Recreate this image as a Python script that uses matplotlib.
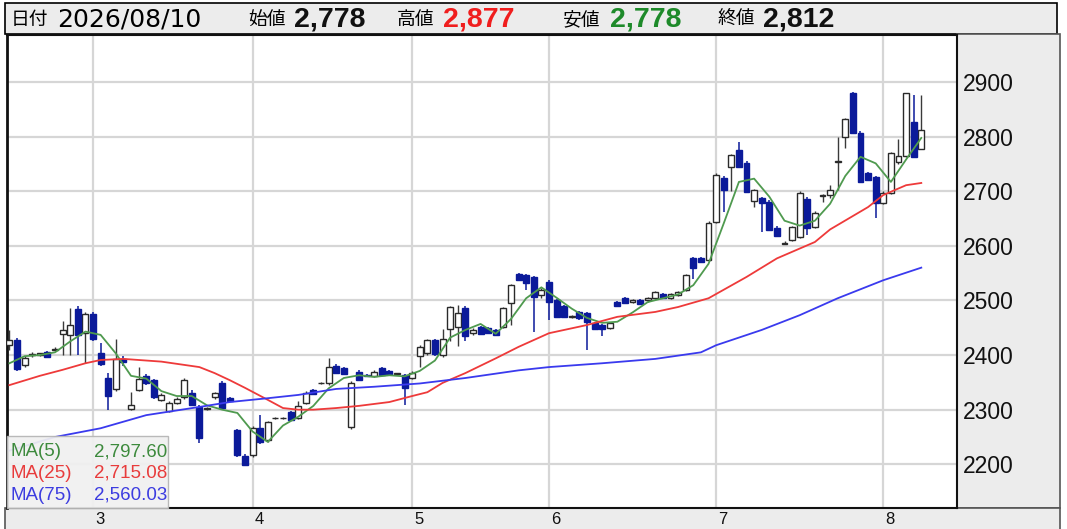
import numpy as np
import pandas as pd
import matplotlib
matplotlib.use("Agg")
import matplotlib.pyplot as plt
from matplotlib.patches import Rectangle
from matplotlib.transforms import ScaledTranslation

plt.rcParams['font.family'] = ['DejaVu Sans', 'Noto Sans CJK JP']
NUM = ['Liberation Sans', 'DejaVu Sans']
JP = ['Noto Sans CJK JP', 'DejaVu Sans']

# Tokyo trading days shown on the chart
holidays = ["2026-02-23", "2026-03-20", "2026-04-29", "2026-05-04",
            "2026-05-05", "2026-05-06", "2026-07-20"]
dates = pd.bdate_range("2026-02-12", "2026-08-10")
dates = dates[~dates.isin(pd.to_datetime(holidays))]

opens = [2418, 2428, 2382, 2400, 2401, 2405, 2410, 2438, 2437, 2485,
         2440, 2476, 2404, 2358, 2338, 2392, 2302, 2336, 2362, 2354,
         2318, 2298, 2313, 2323, 2331, 2305, 2302, 2323, 2349, 2322,
         2263, 2215, 2217, 2266, 2244, 2284, 2284, 2296, 2285, 2313,
         2336, 2348, 2349, 2380, 2376, 2268, 2369, 2364, 2362, 2376,
         2370, 2365, 2363, 2358, 2398, 2404, 2427, 2400, 2448, 2451,
         2486, 2440, 2451, 2449, 2446, 2451, 2495, 2548, 2546, 2543,
         2510, 2534, 2500, 2489, 2470, 2478, 2477, 2459, 2455, 2449,
         2497, 2505, 2497, 2500, 2500, 2504, 2512, 2504, 2510, 2520,
         2577, 2577, 2574, 2643, 2724, 2744, 2775, 2752, 2682, 2687,
         2680, 2633, 2604, 2611, 2616, 2686, 2634, 2692, 2693, 2754,
         2800, 2880, 2807, 2733, 2726, 2678, 2697, 2753, 2764, 2827,
         2778]
highs = [2445, 2432, 2398, 2405, 2404, 2408, 2414, 2462, 2487, 2490,
         2478, 2478, 2422, 2367, 2430, 2398, 2332, 2378, 2365, 2356,
         2330, 2316, 2323, 2358, 2336, 2308, 2305, 2333, 2352, 2324,
         2265, 2218, 2270, 2290, 2280, 2287, 2287, 2298, 2315, 2335,
         2338, 2351, 2394, 2384, 2378, 2352, 2372, 2366, 2372, 2378,
         2372, 2368, 2366, 2370, 2418, 2430, 2430, 2448, 2490, 2492,
         2490, 2450, 2454, 2452, 2448, 2488, 2530, 2550, 2548, 2545,
         2522, 2537, 2503, 2492, 2473, 2480, 2479, 2461, 2457, 2461,
         2499, 2507, 2502, 2502, 2507, 2517, 2514, 2514, 2518, 2548,
         2580, 2580, 2645, 2733, 2727, 2768, 2790, 2755, 2704, 2690,
         2683, 2636, 2608, 2636, 2700, 2690, 2663, 2695, 2712, 2800,
         2834, 2882, 2810, 2736, 2728, 2700, 2772, 2795, 2880, 2876,
         2877]
lows = [2410, 2370, 2378, 2396, 2398, 2394, 2408, 2400, 2400, 2400,
        2385, 2425, 2380, 2300, 2335, 2380, 2300, 2334, 2345, 2320,
        2315, 2296, 2310, 2320, 2306, 2239, 2300, 2320, 2300, 2314,
        2213, 2196, 2214, 2238, 2240, 2283, 2283, 2279, 2283, 2311,
        2327, 2347, 2345, 2366, 2363, 2265, 2352, 2360, 2360, 2361,
        2364, 2364, 2309, 2356, 2378, 2400, 2398, 2397, 2425, 2417,
        2425, 2436, 2436, 2438, 2435, 2449, 2455, 2535, 2520, 2442,
        2505, 2464, 2468, 2468, 2468, 2465, 2409, 2446, 2435, 2447,
        2488, 2493, 2495, 2491, 2498, 2502, 2503, 2502, 2508, 2518,
        2540, 2568, 2572, 2641, 2662, 2700, 2742, 2697, 2672, 2625,
        2627, 2616, 2603, 2609, 2614, 2620, 2632, 2680, 2688, 2702,
        2780, 2805, 2715, 2719, 2651, 2676, 2695, 2750, 2762, 2760,
        2778]
closes = [2428, 2375, 2394, 2402, 2403, 2397, 2412, 2446, 2455, 2437,
          2476, 2430, 2383, 2325, 2393, 2388, 2309, 2356, 2349, 2323,
          2327, 2313, 2320, 2354, 2309, 2248, 2303, 2331, 2303, 2316,
          2217, 2199, 2266, 2241, 2277, 2285, 2285, 2281, 2307, 2331,
          2329, 2349, 2378, 2368, 2365, 2349, 2354, 2362, 2369, 2363,
          2366, 2366, 2340, 2367, 2415, 2427, 2402, 2429, 2488, 2477,
          2434, 2446, 2438, 2440, 2437, 2486, 2528, 2537, 2532, 2506,
          2519, 2497, 2470, 2470, 2471, 2467, 2460, 2448, 2448, 2459,
          2490, 2495, 2500, 2493, 2505, 2515, 2505, 2512, 2516, 2546,
          2559, 2570, 2642, 2730, 2702, 2766, 2744, 2699, 2702, 2678,
          2629, 2618, 2606, 2634, 2697, 2632, 2660, 2693, 2702, 2755,
          2832, 2807, 2717, 2721, 2678, 2697, 2770, 2764, 2880, 2763,
          2812]

# moving averages (candle index, value)
ma5_idx = list(range(0, 121, 2))
ma5_val = [2385, 2398, 2400, 2405, 2425, 2443, 2437, 2403, 2362, 2357,
           2334, 2325, 2325, 2308, 2300, 2294, 2260, 2241, 2271, 2287,
           2307, 2339, 2358, 2363, 2360, 2363, 2361, 2371, 2390, 2432,
           2446, 2457, 2439, 2466, 2504, 2524, 2505, 2485, 2468, 2459,
           2461, 2478, 2497, 2504, 2511, 2528, 2567, 2641, 2717, 2723,
           2690, 2646, 2637, 2646, 2677, 2728, 2763, 2751, 2717, 2758,
           2797.60]
ma25_idx = [0, 4, 7, 10, 12, 15, 20, 25, 27, 29, 31, 34, 36, 38, 40, 43, 46,
            50, 53, 55, 57, 60, 64, 67, 71, 76, 80, 85, 88, 92, 97, 101, 106,
            108, 113, 115, 118, 120]
ma25_val = [2345, 2362, 2373, 2385, 2391, 2393, 2388, 2378, 2367, 2354, 2340,
            2318, 2303, 2300, 2300, 2303, 2307, 2314, 2325, 2332, 2349, 2367,
            2394, 2415, 2440, 2455, 2470, 2479, 2488, 2504, 2543, 2577, 2607,
            2630, 2671, 2693, 2711, 2715.08]
ma75_idx = [0, 6, 12, 18, 25, 29, 34, 38, 43, 48, 54, 57, 60, 64, 67, 71, 78,
            85, 91, 93, 99, 104, 109, 115, 120]
ma75_val = [2225, 2250, 2266, 2290, 2305, 2314, 2321, 2327, 2338, 2342, 2348,
            2353, 2358, 2366, 2372, 2378, 2385, 2393, 2405, 2418, 2446, 2473,
            2504, 2537, 2560.03]

ma_names = ["MA(5)", "MA(25)", "MA(75)"]
ma_line_colors = ["#4f9a4f", "#ee3a3a", "#3a3aee"]
ma_text_colors = ["#3d8a3d", "#e83c3c", "#3c3ce0"]

W, H = 1067, 529
BLUE = "#0b1a9a"


def fx(x):
    return x / W


def fy(y):
    return 1 - y / H


fig = plt.figure(figsize=(W / 100, H / 100), dpi=100)
fig.patch.set_facecolor("white")

# grey panels: header, right price scale, bottom date strip
for (x0, y0, x1, y1, ec) in [(5, 3, 1057, 34, "black"),
                             (957, 34, 1060, 508, "#555555"),
                             (5, 508, 1060, 535, "#555555")]:
    fig.patches.append(Rectangle((fx(x0), fy(y1)), fx(x1) - fx(x0), fy(y0) - fy(y1),
                                 transform=fig.transFigure, facecolor="#ececec",
                                 edgecolor=ec, lw=1.2, zorder=-1))

ax = fig.add_axes([fx(7), fy(508), fx(957) - fx(7), fy(35) - fy(508)])
ax.set_facecolor("white")

o = np.array(opens, float)
h = np.array(highs, float)
l = np.array(lows, float)
c = np.array(closes, float)
x = np.arange(len(c))
up = c >= o

ax.vlines(x[up], l[up], h[up], color="#3a3a3a", lw=1, zorder=3)
ax.vlines(x[~up], l[~up], h[~up], color=BLUE, lw=1.1, zorder=3)
ax.bar(x[up], np.maximum(c - o, 1.5)[up], bottom=o[up], width=0.78,
       facecolor="white", edgecolor="#2a2a2a", lw=1, zorder=4)
ax.bar(x[~up], (o - c)[~up], bottom=c[~up], width=0.78,
       facecolor=BLUE, edgecolor=BLUE, lw=1, zorder=4)

for idx, val, col in zip([ma5_idx, ma25_idx, ma75_idx], [ma5_val, ma25_val, ma75_val],
                         ma_line_colors):
    ax.plot(idx, val, color=col, lw=1.3, zorder=5)

ax.set_xlim(-0.32, 124.7)
ax.set_ylim(2120, 2986)

# month gridlines at first trading day
month_start = [i for i in range(1, len(dates)) if dates[i].month != dates[i - 1].month]
ax.set_xticks(month_start, [str(dates[i].month) for i in month_start])
ax.set_yticks(range(2200, 3000, 100))
ax.grid(color="#d6d6d6", lw=1.6, zorder=0)
ax.set_axisbelow(True)

ax.yaxis.tick_right()
ax.tick_params(axis="y", length=0, pad=4, labelsize=16.5, labelcolor="#111111")
ax.tick_params(axis="x", length=0, pad=3, labelsize=12, labelcolor="#111111")
for t in ax.get_yticklabels() + ax.get_xticklabels():
    t.set_family(NUM)
for t in ax.get_xticklabels():
    t.set_transform(t.get_transform() + ScaledTranslation(0.07, 0, fig.dpi_scale_trans))

for side, lw in [("left", 2), ("right", 1.5), ("top", 1.5), ("bottom", 1.5)]:
    ax.spines[side].set_color("#111111")
    ax.spines[side].set_linewidth(lw)

# MA legend box in the lower left
fig.patches.append(Rectangle((fx(7), fy(508)), fx(168) - fx(7), fy(436) - fy(508),
                             transform=fig.transFigure, facecolor="#f0f0f0", alpha=0.93,
                             edgecolor="#b5b5b5", lw=1, zorder=2))
for k, (name, vals, col) in enumerate(zip(ma_names, [ma5_val, ma25_val, ma75_val],
                                          ma_text_colors)):
    yy = fy(452 + 21.5 * k)
    fig.text(fx(10), yy, name, color=col, fontsize=13.5, family=NUM, va="center", zorder=3)
    fig.text(fx(167), yy, f"{vals[-1]:,.2f}", color=col, fontsize=13.5, family=NUM,
             va="center", ha="right", zorder=3)

# header with the last session's prices
hy = fy(19.5)
fig.text(fx(11), hy, "日付", fontsize=13.5, family=JP, va="center")
fig.text(fx(57), hy, dates[-1].strftime("%Y/%m/%d"), fontsize=18, va="center")
header = [("始値", opens[-1], "#111111", 248, 294),
          ("高値", highs[-1], "#f01e1e", 397, 443),
          ("安値", lows[-1], "#1e8a2a", 563, 610),
          ("終値", closes[-1], "#111111", 717, 763)]
for name, val, col, xl, xv in header:
    fig.text(fx(xl), hy, name, fontsize=13.5, family=JP, va="center")
    fig.text(fx(xv), hy, f"{val:,}", fontsize=20.5, family=NUM, weight="bold",
             color=col, va="center")

fig.savefig("out.png", dpi=100)
